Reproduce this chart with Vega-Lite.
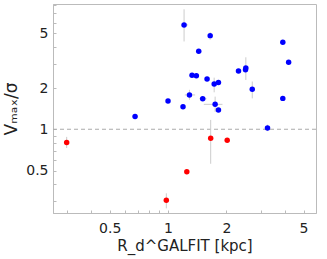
{
  "$schema": "https://vega.github.io/schema/vega-lite/v6.json",
  "width": 263,
  "height": 209,
  "autosize": "none",
  "padding": {"left": 53, "top": 4, "right": 11, "bottom": 46},
  "background": "white",
  "config": {
    "view": {"stroke": "#bbbbbb", "strokeWidth": 1},
    "font": "DejaVu Sans",
    "axis": {
      "grid": false,
      "domainColor": "#bbbbbb",
      "tickColor": "#bbbbbb",
      "labelFont": "DejaVu Sans",
      "titleFont": "DejaVu Sans",
      "labelFontSize": 14,
      "labelColor": "#222222",
      "titleColor": "#222222",
      "titleFontWeight": "normal",
      "titleFontSize": 15
    }
  },
  "data": {
    "values": [
      {"r": 1.21, "v": 5.77, "rlo": 1.17, "rhi": 1.27, "vlo": 4.37, "vhi": 7.5, "g": "blue"},
      {"r": 1.65, "v": 4.82, "rlo": 1.62, "rhi": 1.68, "vlo": 4.5, "vhi": 5.1, "g": "blue"},
      {"r": 1.44, "v": 3.71, "rlo": 1.44, "rhi": 1.44, "vlo": 3.71, "vhi": 3.71, "g": "blue"},
      {"r": 1.33, "v": 2.48, "rlo": 1.33, "rhi": 1.33, "vlo": 2.48, "vhi": 2.48, "g": "blue"},
      {"r": 1.40, "v": 2.46, "rlo": 1.40, "rhi": 1.40, "vlo": 2.46, "vhi": 2.46, "g": "blue"},
      {"r": 1.59, "v": 2.33, "rlo": 1.59, "rhi": 1.59, "vlo": 2.33, "vhi": 2.33, "g": "blue"},
      {"r": 1.73, "v": 2.14, "rlo": 1.73, "rhi": 1.73, "vlo": 1.86, "vhi": 2.38, "g": "blue"},
      {"r": 1.82, "v": 2.19, "rlo": 1.77, "rhi": 1.87, "vlo": 2.19, "vhi": 2.19, "g": "blue"},
      {"r": 2.31, "v": 2.66, "rlo": 2.31, "rhi": 2.31, "vlo": 2.66, "vhi": 2.66, "g": "blue"},
      {"r": 2.51, "v": 2.72, "rlo": 2.51, "rhi": 2.51, "vlo": 2.72, "vhi": 2.72, "g": "blue"},
      {"r": 2.52, "v": 2.80, "rlo": 2.52, "rhi": 2.52, "vlo": 2.29, "vhi": 3.35, "g": "blue"},
      {"r": 2.72, "v": 1.96, "rlo": 2.72, "rhi": 2.72, "vlo": 1.68, "vhi": 2.23, "g": "blue"},
      {"r": 3.91, "v": 4.32, "rlo": 3.91, "rhi": 3.91, "vlo": 4.32, "vhi": 4.32, "g": "blue"},
      {"r": 4.19, "v": 3.08, "rlo": 4.19, "rhi": 4.19, "vlo": 3.08, "vhi": 3.08, "g": "blue"},
      {"r": 3.91, "v": 1.68, "rlo": 3.91, "rhi": 3.91, "vlo": 1.68, "vhi": 1.68, "g": "blue"},
      {"r": 3.26, "v": 1.02, "rlo": 3.26, "rhi": 3.26, "vlo": 0.97, "vhi": 1.08, "g": "blue"},
      {"r": 1.0, "v": 1.61, "rlo": 1.0, "rhi": 1.0, "vlo": 1.61, "vhi": 1.61, "g": "blue"},
      {"r": 0.676, "v": 1.24, "rlo": 0.676, "rhi": 0.676, "vlo": 1.24, "vhi": 1.24, "g": "blue"},
      {"r": 1.195, "v": 1.46, "rlo": 1.195, "rhi": 1.195, "vlo": 1.46, "vhi": 1.46, "g": "blue"},
      {"r": 1.29, "v": 1.78, "rlo": 1.22, "rhi": 1.38, "vlo": 1.64, "vhi": 1.94, "g": "blue"},
      {"r": 1.51, "v": 1.67, "rlo": 1.45, "rhi": 1.58, "vlo": 1.67, "vhi": 1.67, "g": "blue"},
      {"r": 1.75, "v": 1.52, "rlo": 1.53, "rhi": 1.91, "vlo": 1.34, "vhi": 1.73, "g": "blue"},
      {"r": 1.82, "v": 1.38, "rlo": 1.82, "rhi": 1.82, "vlo": 1.38, "vhi": 1.38, "g": "blue"},
      {"r": 0.30, "v": 0.80, "rlo": 0.30, "rhi": 0.30, "vlo": 0.73, "vhi": 0.88, "g": "red"},
      {"r": 1.66, "v": 0.86, "rlo": 1.66, "rhi": 1.66, "vlo": 0.56, "vhi": 1.17, "g": "red"},
      {"r": 2.02, "v": 0.83, "rlo": 2.02, "rhi": 2.02, "vlo": 0.83, "vhi": 0.83, "g": "red"},
      {"r": 1.25, "v": 0.49, "rlo": 1.25, "rhi": 1.25, "vlo": 0.47, "vhi": 0.51, "g": "red"},
      {"r": 0.98, "v": 0.303, "rlo": 0.98, "rhi": 0.98, "vlo": 0.265, "vhi": 0.341, "g": "red"}
    ]
  },
  "encoding": {
    "x": {
      "field": "r",
      "type": "quantitative",
      "scale": {"type": "log", "domain": [0.255, 5.8], "nice": false},
      "axis": {
        "title": "R_d^GALFIT [kpc]",
        "values": [0.3, 0.4, 0.5, 0.6, 0.7, 0.8, 0.9, 1, 2, 3, 4, 5],
        "labelExpr": "indexof([0.5, 1, 2, 5], datum.value) >= 0 ? datum.value : ''",
        "tickSize": -3,
        "labelPadding": 11,
        "titlePadding": 3,
        "labelFlush": false,
        "labelOverlap": false
      }
    },
    "y": {
      "field": "v",
      "type": "quantitative",
      "scale": {"type": "log", "domain": [0.245, 8.2], "nice": false},
      "axis": {
        "title": "Vₘₐₓ/σ",
        "titleFontSize": 17,
        "values": [0.3, 0.4, 0.5, 0.6, 0.7, 0.8, 0.9, 1, 2, 3, 4, 5, 6, 7, 8],
        "labelExpr": "indexof([0.5, 1, 2, 5], datum.value) >= 0 ? datum.value : ''",
        "tickSize": -3,
        "labelPadding": 8,
        "titlePadding": 5,
        "labelFlush": false,
        "labelOverlap": false
      }
    }
  },
  "layer": [
    {
      "data": {"values": [{"one": 1}]},
      "mark": {"type": "rule", "color": "#aaaaaa", "strokeDash": [4, 3], "strokeWidth": 1.2},
      "encoding": {"x": null, "y": {"field": "one", "type": "quantitative"}}
    },
    {
      "mark": {"type": "rule", "color": "#cccccc", "strokeWidth": 1},
      "encoding": {"y": {"field": "vlo", "type": "quantitative"}, "y2": {"field": "vhi"}}
    },
    {
      "mark": {"type": "rule", "color": "#cccccc", "strokeWidth": 1},
      "encoding": {"x": {"field": "rlo", "type": "quantitative"}, "x2": {"field": "rhi"}}
    },
    {
      "mark": {"type": "circle", "opacity": 1, "size": 30},
      "encoding": {
        "color": {
          "field": "g",
          "type": "nominal",
          "scale": {"domain": ["blue", "red"], "range": ["#0000ff", "#ff0000"]},
          "legend": null
        }
      }
    }
  ]
}
